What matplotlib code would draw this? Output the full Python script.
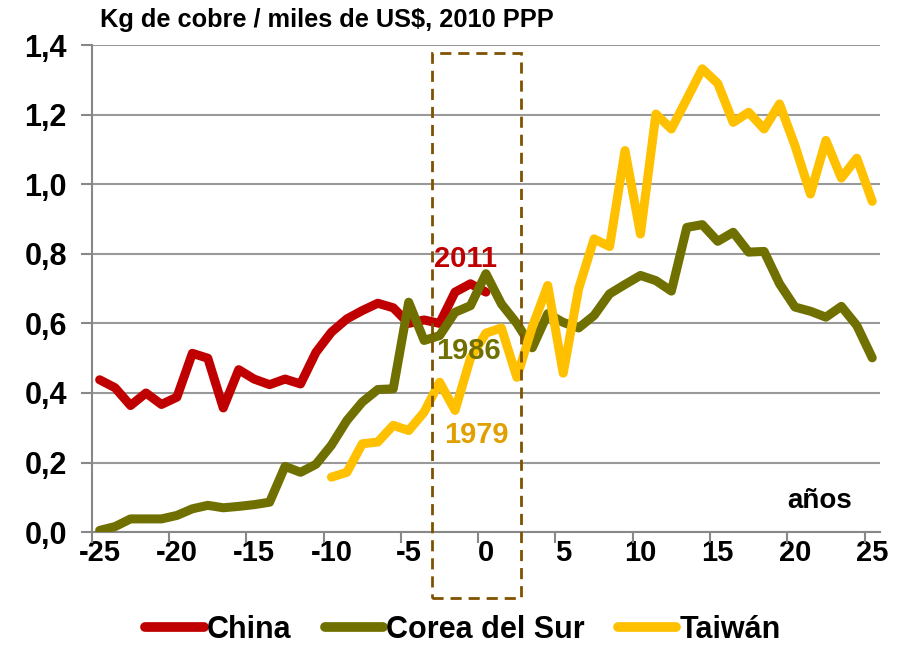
import numpy as np
import matplotlib
matplotlib.use("Agg")
import matplotlib.pyplot as plt
from matplotlib.patches import Rectangle
from matplotlib.ticker import MultipleLocator, FixedLocator, FuncFormatter

plt.rcParams['font.family'] = ['Liberation Sans', 'DejaVu Sans']
plt.rcParams['font.weight'] = 'bold'
plt.rcParams['axes.unicode_minus'] = False

# años relativos al año de referencia
china_x = np.arange(-25, 1)
china = [0.438, 0.415, 0.364, 0.400, 0.367, 0.388, 0.514, 0.500, 0.357, 0.467,
         0.440, 0.424, 0.440, 0.426, 0.517, 0.575, 0.613, 0.637, 0.658, 0.645,
         0.600, 0.610, 0.600, 0.690, 0.714, 0.690]

corea_x = np.arange(-25, 26)
corea = [0.005, 0.016, 0.038, 0.038, 0.038, 0.048, 0.067, 0.077, 0.070, 0.074,
         0.079, 0.086, 0.189, 0.172, 0.195, 0.250, 0.321, 0.374, 0.410, 0.412,
         0.661, 0.551, 0.565, 0.632, 0.651, 0.743, 0.656, 0.600, 0.530, 0.628,
         0.603, 0.587, 0.623, 0.685, 0.712, 0.738, 0.723, 0.693, 0.876, 0.884,
         0.836, 0.862, 0.805, 0.807, 0.714, 0.647, 0.635, 0.618, 0.649, 0.594,
         0.501]

taiwan_x = np.arange(-10, 26)
taiwan = [0.158, 0.172, 0.254, 0.259, 0.307, 0.292, 0.345, 0.431, 0.350, 0.500,
          0.572, 0.587, 0.445, 0.590, 0.709, 0.457, 0.700, 0.843, 0.821, 1.097,
          0.857, 1.202, 1.159, 1.245, 1.332, 1.290, 1.178, 1.207, 1.159, 1.231,
          1.111, 0.972, 1.126, 1.018, 1.075, 0.951]

series_names = ['China', 'Corea del Sur', 'Taiwán']
colors = ['#C00000', '#707000', '#FFC000']
x_labels = [-25, -20, -15, -10, -5, 0, 5, 10, 15, 20, 25]

fig = plt.figure(figsize=(9.1, 6.45), dpi=100)
ax = fig.add_axes([0.101, 0.175, 0.866, 0.755])

lw = 6.5
for xs, ys, name, c in zip([china_x, corea_x, taiwan_x], [china, corea, taiwan],
                           series_names, colors):
    ax.plot(xs, ys, color=c, lw=lw, label=name,
            solid_joinstyle='round', solid_capstyle='round', zorder=3)

ax.set_xlim(-25.5, 25.5)
ax.set_ylim(0, 1.4)

# eje y
ax.yaxis.set_major_locator(MultipleLocator(0.2))
ax.yaxis.set_major_formatter(FuncFormatter(lambda v, p: f"{v:.1f}".replace('.', ',')))
ax.tick_params(axis='y', length=8, width=1.5, color='#888888', labelsize=22, pad=10)
ax.grid(axis='y', color='#999999', lw=1.5, zorder=0)

# eje x: etiquetas centradas en la categoría, marcas entre categorías
ax.xaxis.set_major_locator(FixedLocator(x_labels))
ax.xaxis.set_minor_locator(FixedLocator([v - 0.5 for v in x_labels]))
ax.tick_params(axis='x', which='major', length=0, labelsize=21, pad=5)
ax.tick_params(axis='x', which='minor', length=8, width=1.5, color='#888888')

for s in ['top', 'right']:
    ax.spines[s].set_visible(False)
for s in ['left', 'bottom']:
    ax.spines[s].set_color('#888888')
    ax.spines[s].set_linewidth(1.5)

# recuadro punteado
rect = Rectangle((-3.5, -0.19), 5.8, 1.566, fill=False, ec='#7F5200', lw=2,
                 ls=(0, (4, 2.5)), clip_on=False, zorder=4)
ax.add_patch(rect)

ax.text(-1.35, 0.786, '2011', color='#C00000', fontsize=21, ha='center', va='center', zorder=5)
ax.text(-1.15, 0.522, '1986', color='#707000', fontsize=21, ha='center', va='center', zorder=5)
ax.text(-0.65, 0.278, '1979', color='#E0A000', fontsize=21, ha='center', va='center', zorder=5)
ax.text(21.6, 0.09, 'años', color='black', fontsize=20, ha='center', va='center')

fig.text(100 / 910, 1 - 20 / 645, 'Kg de cobre / miles de US$, 2010 PPP',
         fontsize=18.3, ha='left', va='center')

leg = fig.legend(loc='center', bbox_to_anchor=(463 / 910, 1 - 630 / 645), ncol=3,
                 frameon=False, fontsize=22, handlelength=1.9, handletextpad=0.1,
                 columnspacing=1.1)
for h in leg.get_lines():
    h.set_linewidth(7)
    h.set_solid_capstyle('round')

fig.savefig('out.png', dpi=100)
